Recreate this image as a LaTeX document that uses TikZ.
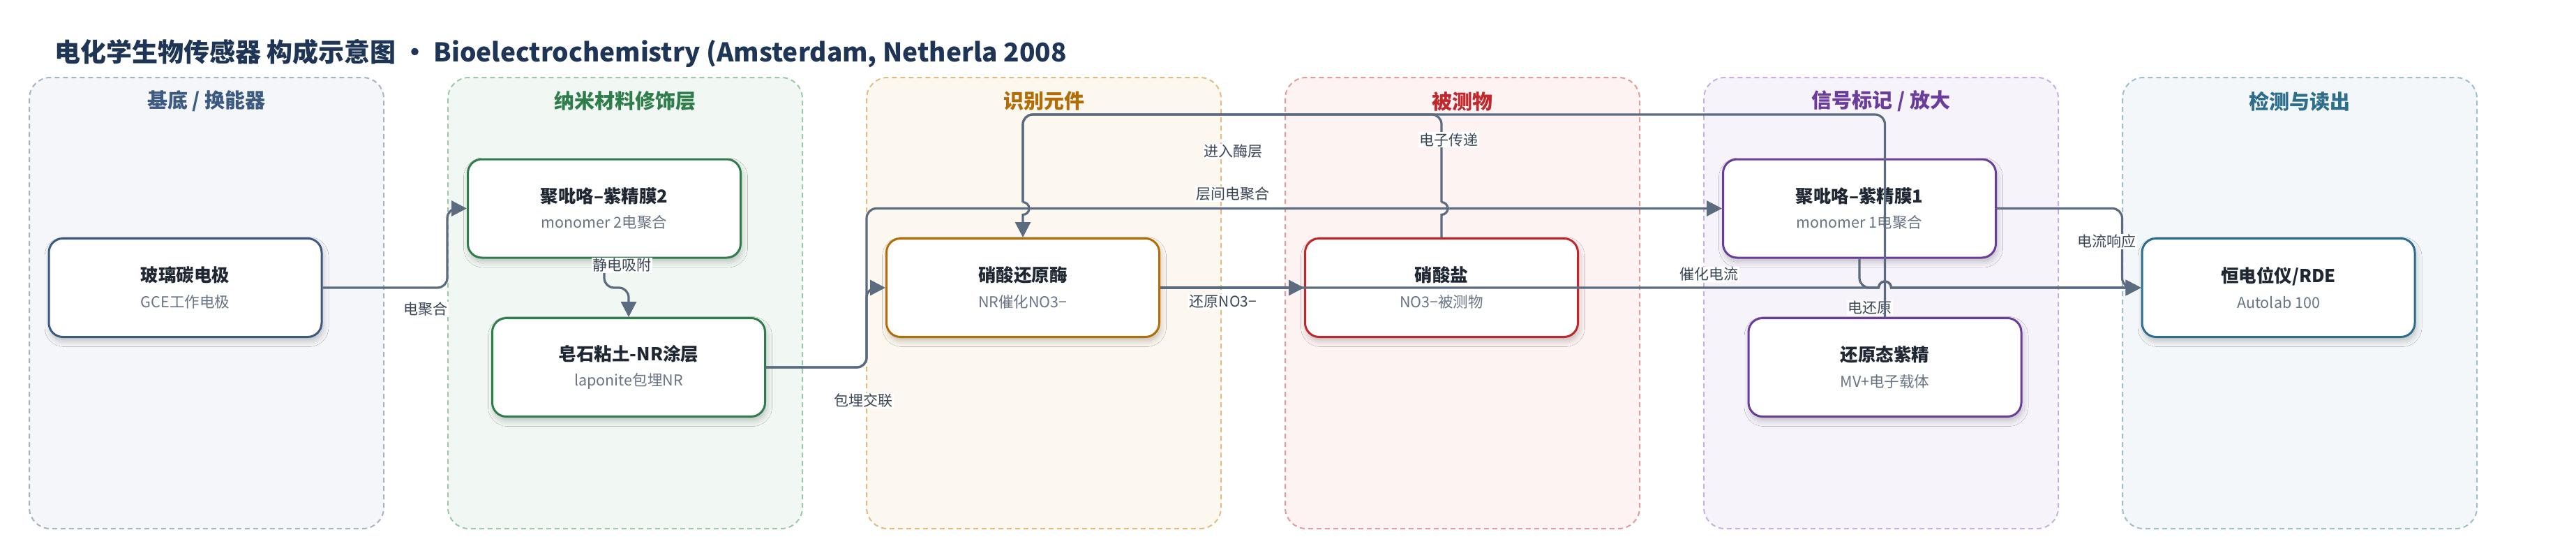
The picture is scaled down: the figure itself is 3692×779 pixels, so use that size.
\documentclass[tikz,border=0pt]{standalone}
\usepackage{fontspec}
\setmainfont{Noto Sans CJK SC}
\usetikzlibrary{arrows.meta,shadows.blur}
\definecolor{titlec}{HTML}{1E3556}
\definecolor{edgec}{HTML}{5B6B80}
\definecolor{labc}{HTML}{3A4556}
\definecolor{ntext}{HTML}{1F2733}
\definecolor{nsub}{HTML}{687385}
% lanes
\definecolor{fA}{HTML}{F5F6FA}\definecolor{bA}{HTML}{A6B4C8}\definecolor{tA}{HTML}{3D5A80}
\definecolor{fB}{HTML}{F1F8F3}\definecolor{bB}{HTML}{9CC9A8}\definecolor{tB}{HTML}{2E7D4A}
\definecolor{fC}{HTML}{FDF8EF}\definecolor{bC}{HTML}{E2BD80}\definecolor{tC}{HTML}{B36D06}
\definecolor{fD}{HTML}{FDF3F3}\definecolor{bD}{HTML}{E39B9B}\definecolor{tD}{HTML}{C0282D}
\definecolor{fE}{HTML}{F7F3FB}\definecolor{bE}{HTML}{C8B0E0}\definecolor{tE}{HTML}{6A3D9A}
\definecolor{fF}{HTML}{F3F7F9}\definecolor{bF}{HTML}{9FBFCC}\definecolor{tF}{HTML}{2C6E8C}
\begin{document}
\begin{tikzpicture}[x=1pt,y=-1pt,
  lanebox/.style={rounded corners=30pt, dash pattern=on 7pt off 5pt, line width=2pt},
  lanetitle/.style={font=\fontsize{29}{32}\selectfont\bfseries, inner sep=0pt},
  box/.style={rectangle, rounded corners=20pt, minimum width=391pt, minimum height=141pt,
    fill=white, line width=3pt, align=center, inner sep=0pt, text=ntext,
    font=\fontsize{25.5}{30}\selectfont,
    blur shadow={shadow xshift=2pt, shadow yshift=-6pt, shadow blur radius=8pt, shadow opacity=22}},
  edgeline/.style={draw=edgec, line width=3.2pt},
  edge/.style={edgeline, -{Triangle[length=22pt,width=22pt]}},
  elabel/.style={fill=white, inner sep=1.5pt, text=labc, font=\fontsize{21}{24}\selectfont},
]
\useasboundingbox (0,0) rectangle (3692,779);
\fill[white] (0,0) rectangle (3692,779);

% title
\node[anchor=west, inner sep=0pt, text=titlec, font=\fontsize{37}{41}\selectfont\bfseries] (title) at (78,77)
  {电化学生物传感器 构成示意图 · Bioelectrochemistry (Amsterdam, Netherla 2008};

% lanes
\draw[lanebox, fill=fA, draw=bA] (42,111) rectangle (550,757);
\draw[lanebox, fill=fB, draw=bB] (642,111) rectangle (1150,757);
\draw[lanebox, fill=fC, draw=bC] (1242,111) rectangle (1750,757);
\draw[lanebox, fill=fD, draw=bD] (1842,111) rectangle (2350,757);
\draw[lanebox, fill=fE, draw=bE] (2442,111) rectangle (2950,757);
\draw[lanebox, fill=fF, draw=bF] (3042,111) rectangle (3550,757);
\node[lanetitle, text=tA] (lt1) at (296,145) {基底 / 换能器};
\node[lanetitle, text=tB] (lt2) at (896,145) {纳米材料修饰层};
\node[lanetitle, text=tC] (lt3) at (1496,145) {识别元件};
\node[lanetitle, text=tD] (lt4) at (2096,145) {被测物};
\node[lanetitle, text=tE] (lt5) at (2696,145) {信号标记 / 放大};
\node[lanetitle, text=tF] (lt6) at (3296,145) {检测与读出};

% nodes
\node[box, draw=tA] (gce) at (265.5,412) {\bfseries 玻璃碳电极\\[6.5pt]{\fontsize{21.5}{26}\selectfont\color{nsub}GCE工作电极}};
\node[box, draw=tB] (pp2) at (866,298.5) {\bfseries 聚吡咯–紫精膜2\\[6.5pt]{\fontsize{21.5}{26}\selectfont\color{nsub}monomer 2电聚合}};
\node[box, draw=tB] (lap) at (901,526) {\bfseries 皂石粘土-NR涂层\\[6.5pt]{\fontsize{21.5}{26}\selectfont\color{nsub}laponite包埋NR}};
\node[box, draw=tC] (nr) at (1466,412) {\bfseries 硝酸还原酶\\[6.5pt]{\fontsize{21.5}{26}\selectfont\color{nsub}NR催化NO3−}};
\node[box, draw=tD] (no3) at (2066,412) {\bfseries 硝酸盐\\[6.5pt]{\fontsize{21.5}{26}\selectfont\color{nsub}NO3−被测物}};
\node[box, draw=tE] (pp1) at (2665,298.5) {\bfseries 聚吡咯–紫精膜1\\[6.5pt]{\fontsize{21.5}{26}\selectfont\color{nsub}monomer 1电聚合}};
\node[box, draw=tE] (mv) at (2701.5,526) {\bfseries 还原态紫精\\[6.5pt]{\fontsize{21.5}{26}\selectfont\color{nsub}MV+电子载体}};
\node[box, draw=tF] (pot) at (3265.5,412) {\bfseries 恒电位仪/RDE\\[6.5pt]{\fontsize{21.5}{26}\selectfont\color{nsub}Autolab 100}};

% edges
% 电聚合
\draw[edge, rounded corners=14pt] (gce.east) -- (641,412) -- (641,298.5) -- (pp2.west);
\node[elabel] (l1) at (610,443) {电聚合};
% 静电吸附
\draw[edge, rounded corners=14pt] (pp2.south) -- (866,412) -- (901,412) -- (lap.north);
\node[elabel] (l2) at (891,380) {静电吸附};
% 包埋交联
\draw[edge, rounded corners=14pt] (lap.east) -- (1242,526) -- (1242,412) -- (nr.west);
\node[elabel] (l3) at (1237,574) {包埋交联};
% 层间电聚合
\draw[edge, rounded corners=14pt] (lap.east) -- (1242,526) -- (1242,298.5) -- (pp1.west);
% 还原NO3-
\draw[edge] (nr.east) -- (no3.west);
\node[elabel] (l7) at (1753,432) {还原NO3−};
% 催化电流
\draw[edge] (nr.east) -- (2692.5,412) arc[start angle=180,end angle=360,radius=9] -- (pot.west);
\node[elabel] (l8) at (2449,393) {催化电流};
% 电还原
\draw[edgeline, rounded corners=14pt] (pp1.south) -- (2665,412) -- (2692.5,412);
\draw[edge] (2692.5,412) arc[start angle=180,end angle=360,radius=9] -- (pot.west);
\node[elabel] (l9) at (2680,441) {电还原};
% 电流响应
\draw[edge, rounded corners=14pt] (pp1.east) -- (3041.5,298.5) -- (3041.5,412) -- (pot.west);
\node[elabel] (l10) at (3019,346) {电流响应};
% 电子传递
\draw[edgeline] (no3.north) -- (2066,307.5) arc[start angle=90,end angle=-90,radius=9];
\draw[edgeline, rounded corners=14pt] (2066,289.5) -- (2066,164) -- (1466,164) -- (1466,289.5);
% 进入酶层
\draw[edgeline, rounded corners=14pt] (mv.north) -- (2701.5,164) -- (1466,164) -- (1466,289.5);
\draw[edge] (1466,289.5) arc[start angle=-90,end angle=90,radius=9] -- (nr.north);
\node[elabel] (l5) at (1767,217) {进入酶层};
\node[elabel] (l4) at (1767,278) {层间电聚合};
\node[elabel] (l6) at (2076,200) {电子传递};
\end{tikzpicture}
\end{document}
